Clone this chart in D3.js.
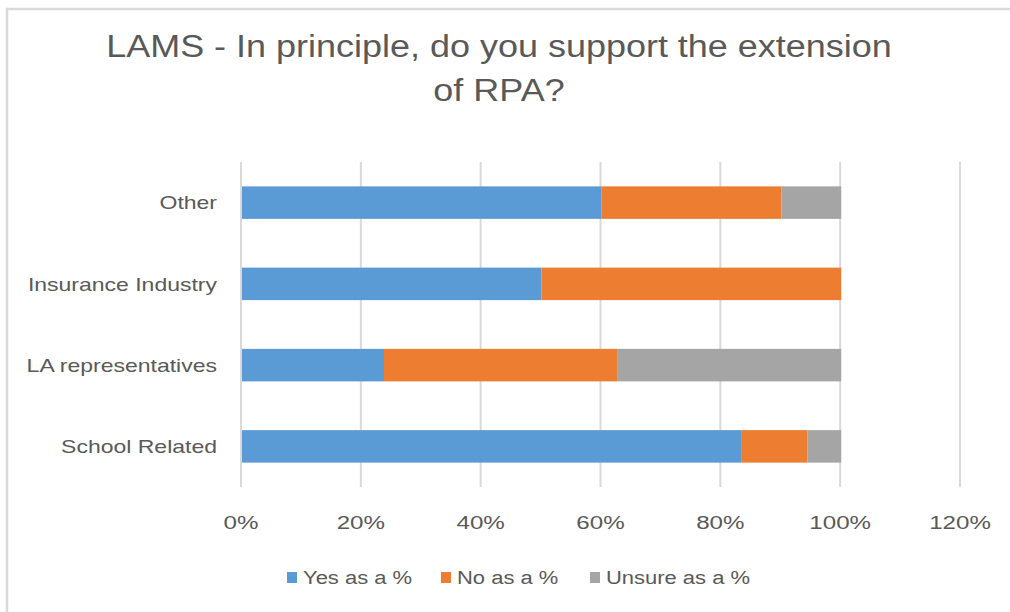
<!DOCTYPE html>
<html>
<head>
<meta charset="utf-8">
<script src="https://cdn.jsdelivr.net/npm/d3@7"></script>
<style>
	body { margin: 0; background: #fff; }
	svg text { font-family: "Liberation Sans", Arial, sans-serif; fill: #595959; }
</style>
</head>
<body>
<div id="chart"></div>
<script>
var categories = ["Other", "Insurance Industry", "LA representatives", "School Related"];
var seriesNames = ["Yes as a %", "No as a %", "Unsure as a %"];
var yesValues = [0.60, 0.50, 0.237, 0.833];
var noValues = [0.30, 0.50, 0.389, 0.111];
var unsureValues = [0.10, 0.00, 0.374, 0.056];
var tickValues = [0, 0.2, 0.4, 0.6, 0.8, 1.0, 1.2];
var colors = ["#5b9bd5", "#ed7d31", "#a5a5a5"];
var titleLines = ["LAMS - In principle, do you support the extension", "of RPA?"];

var W = 1010, H = 612;
var plot = { left: 241, right: 960, top: 162, bottom: 487 };

var svg = d3.select("#chart").append("svg")
	.attr("width", W)
	.attr("height", H);

// the original font is wider than Liberation Sans, so widen text a bit
function stretch(sel, k) {
	sel.each(function() {
		var len = this.getComputedTextLength();
		d3.select(this)
			.attr("textLength", (len * k).toFixed(1))
			.attr("lengthAdjust", "spacingAndGlyphs");
	});
}

// chart frame (only top and left edges show in the crop)
svg.append("path")
	.attr("d", "M7,612 L7,9 L1010,9")
	.style("fill", "none")
	.style("stroke", "#d9d9d9")
	.style("stroke-width", 2.5);

// title
svg.append("g").selectAll("text")
	.data(titleLines)
	.enter().append("text")
	.attr("x", 499)
	.attr("y", function(d, i) { return 57 + i * 44; })
	.style("text-anchor", "middle")
	.style("font-size", "31px")
	.text(function(d) { return d; })
	.call(stretch, 1.16);

var x = d3.scaleLinear().domain([0, 1.2]).range([plot.left, plot.right]);
var y = d3.scaleBand().domain(categories).range([plot.top, plot.bottom]).paddingInner(0.6).paddingOuter(0.3);

// gridlines
svg.append("g").selectAll("line")
	.data(tickValues)
	.enter().append("line")
	.attr("x1", function(d) { return x(d); })
	.attr("x2", function(d) { return x(d); })
	.attr("y1", plot.top)
	.attr("y2", plot.bottom)
	.style("stroke", "#d9d9d9")
	.style("stroke-width", 2);

// stacked bars
var table = categories.map(function(c, i) {
	return { cat: c, yes: yesValues[i], no: noValues[i], unsure: unsureValues[i] };
});
var stack = d3.stack().keys(["yes", "no", "unsure"]);
var layers = stack(table);

svg.append("g").selectAll("g")
	.data(layers)
	.enter().append("g")
	.style("fill", function(d, i) { return colors[i]; })
	.selectAll("rect")
	.data(function(d) { return d; })
	.enter().append("rect")
	.attr("x", function(d) { return x(d[0]) + 1; })
	.attr("width", function(d) { return Math.max(0, x(d[1]) - x(d[0])); })
	.attr("y", function(d) { return y(d.data.cat); })
	.attr("height", y.bandwidth());

// x axis tick labels
svg.append("g").selectAll("text")
	.data(tickValues)
	.enter().append("text")
	.attr("x", function(d) { return x(d); })
	.attr("y", 529)
	.style("text-anchor", "middle")
	.style("font-size", "18px")
	.text(d3.format(".0%"))
	.call(stretch, 1.34);

// category labels
svg.append("g").selectAll("text")
	.data(categories)
	.enter().append("text")
	.attr("x", 217)
	.attr("y", function(d) { return y(d) + y.bandwidth() / 2; })
	.attr("dy", "0.36em")
	.style("text-anchor", "end")
	.style("font-size", "19px")
	.text(function(d) { return d; })
	.call(stretch, 1.21);

// legend
var legendX = [287, 441, 590];
var legend = svg.append("g").selectAll("g")
	.data(seriesNames)
	.enter().append("g")
	.attr("transform", function(d, i) { return "translate(" + legendX[i] + ",572)"; });
legend.append("rect")
	.attr("width", 10)
	.attr("height", 11)
	.style("fill", function(d, i) { return colors[i]; });
legend.append("text")
	.attr("x", 16)
	.attr("y", 11.5)
	.style("font-size", "18px")
	.text(function(d) { return d; })
	.call(stretch, 1.22);
</script>
</body>
</html>
